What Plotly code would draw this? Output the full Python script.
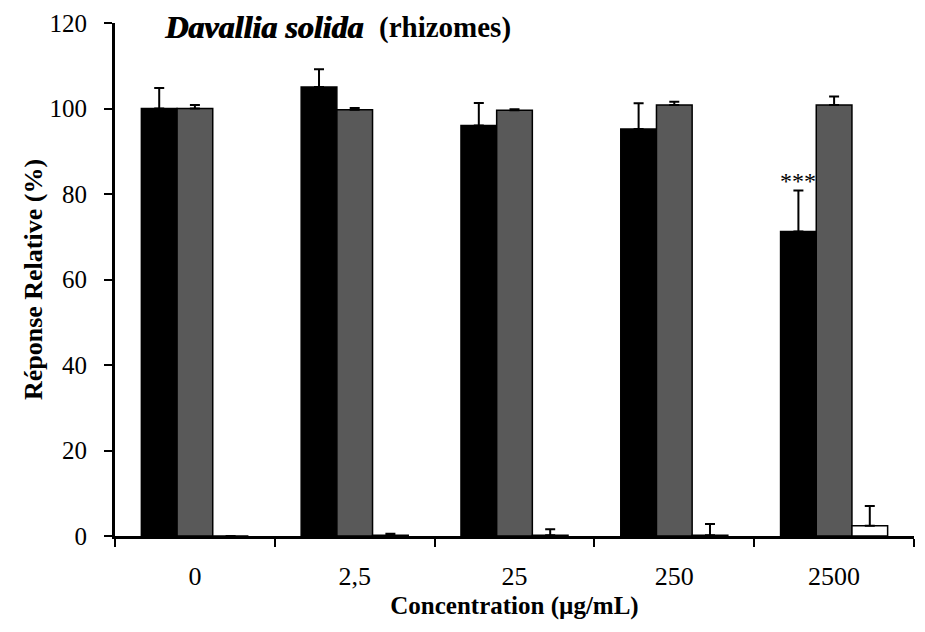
import plotly.graph_objects as go

categories = ["0", "2,5", "25", "250", "2500"]
black_vals = [100, 105.0, 96.0, 95.2, 71.2]
black_err = [4.8, 4.2, 5.3, 6.0, 9.6]
gray_vals = [100, 99.7, 99.6, 100.8, 100.8]
gray_err = [0.8, 0.4, 0.2, 0.8, 2.0]
white_vals = [0, 0.2, 0.2, 0.2, 2.4]
white_err = [0, 0.3, 1.4, 2.6, 4.6]

font_family = "Liberation Serif, Times New Roman, serif"

def err(vals):
    return dict(type="data", array=vals, arrayminus=[0]*len(vals), symmetric=False,
                color="black", thickness=2, width=5)

fig = go.Figure()
fig.add_trace(go.Bar(x=categories, y=black_vals, error_y=err(black_err),
                     marker=dict(color="black", line=dict(color="black", width=1.5)), name="A"))
fig.add_trace(go.Bar(x=categories, y=gray_vals, error_y=err(gray_err),
                     marker=dict(color="#595959", line=dict(color="black", width=1.5)), name="B"))
fig.add_trace(go.Bar(x=categories, y=white_vals, error_y=err(white_err),
                     marker=dict(color="white", line=dict(color="black", width=1.5)), name="C"))

fig.add_annotation(x=4, y=83, text="***", showarrow=False, xshift=-36,
                   font=dict(family=font_family, size=24, color="black"))

# title: bold-italic species name + bold part
for dx in (0, 0.6):
    fig.add_annotation(xref="paper", yref="paper", x=0.313, y=1.0, xshift=dx, yshift=-4,
                       xanchor="right", yanchor="middle", text="<i>Davallia solida</i>", showarrow=False,
                       font=dict(family=font_family, size=32, color="black", weight="bold"))
fig.add_annotation(xref="paper", yref="paper", x=0.328, y=1.0, yshift=-4, xanchor="left", yanchor="middle",
                   text="<b>(rhizomes)</b>", showarrow=False,
                   font=dict(family=font_family, size=29, color="black"))

fig.update_layout(
    width=925, height=632,
    margin=dict(l=107, r=19, t=15, b=104),
    paper_bgcolor="white", plot_bgcolor="white",
    barmode="group", bargap=0.33, bargroupgap=0,
    showlegend=False,
    font=dict(family=font_family, color="black"),
    xaxis=dict(type="category", range=[-0.5, 4.5], tickson="boundaries", ticks="outside", ticklen=8, tickwidth=2,
               tickcolor="black", showline=True, linecolor="black", linewidth=3, automargin=False,
               tickfont=dict(size=26, family=font_family), ticklabelstandoff=15,
               title=dict(text="<b>Concentration (µg/mL)</b>", font=dict(size=25, family=font_family), standoff=7),
               showgrid=False),
    yaxis=dict(range=[0, 120], dtick=20, ticks="outside", ticklen=8, tickwidth=2, tickcolor="black",
               showline=True, linecolor="black", linewidth=3, showgrid=False, zeroline=False, automargin=False,
               tickfont=dict(size=25, family=font_family), ticklabelstandoff=12, ticklabeloverflow="allow",
               title=dict(text="<b>Réponse Relative (%)</b>", font=dict(size=26, family=font_family), standoff=0)),
)

fig.write_html("out.html")
